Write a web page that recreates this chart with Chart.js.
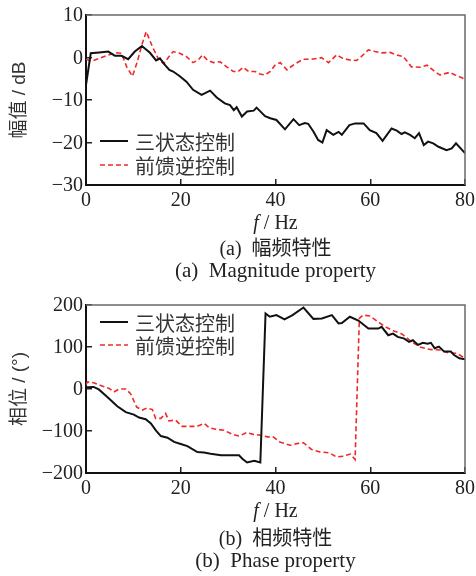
<!DOCTYPE html>
<html>
<head>
<meta charset="utf-8">
<script src="https://cdn.jsdelivr.net/npm/chart.js@4/dist/chart.umd.min.js"></script>
<style>
  html, body { margin:0; padding:0; background:#fff; width:476px; height:576px; overflow:hidden; }
  .box { position:absolute; left:0; width:476px; }
  .txt { position:absolute; left:86px; width:379px; text-align:center; white-space:pre; color:#222;
         font-family:"Liberation Serif","Noto Sans CJK SC",serif; }
</style>
</head>
<body>
<div class="box" style="top:0px;height:212px"><canvas id="c1" width="476" height="212"></canvas></div>
<div class="box" style="top:290px;height:212px"><canvas id="c2" width="476" height="212"></canvas></div>
<div class="txt" style="top:209px;font-size:20px;line-height:26px"><i>f</i> / Hz</div>
<div class="txt" style="top:235px;font-size:20px;line-height:26px">(a)  幅频特性</div>
<div class="txt" style="top:257px;font-size:21px;line-height:26px">(a)  Magnitude property</div>
<div class="txt" style="top:497px;font-size:20px;line-height:26px"><i>f</i> / Hz</div>
<div class="txt" style="top:525px;font-size:20px;line-height:26px">(b)  相频特性</div>
<div class="txt" style="top:547px;font-size:21px;line-height:26px">(b)  Phase property</div>
<script>
// ---------- data ----------
const seriesNames = ['三状态控制', '前馈逆控制'];
const xTicks = [0, 20, 40, 60, 80];
const magTicks = [-30, -20, -10, 0, 10];
const phaseTicks = [-200, -100, 0, 100, 200];

const magFreqTri = [0,1.0,2.8,4.7,6.1,7.5,8.9,10.3,11.8,13.5,14.8,15.6,16.7,17.6,18.4,19.8,21.2,22.6,24.4,26.2,27.6,29.3,30.4,31.2,31.8,32.9,34.0,35.4,36.0,37.8,38.9,40.2,42.0,43.8,45.0,46.2,46.9,48.0,49.0,49.9,50.8,52.2,53.3,54.0,55.6,56.8,58.6,59.9,61.3,62.6,64.5,65.6,66.6,67.3,68.4,69.4,70.3,71.3,72.2,73.3,74.4,76.1,77.2,78.1,80];
const magTri = [-6.5,1.0,1.2,1.4,0.4,0.4,-0.4,1.4,2.7,1.1,-0.7,-0.2,-1.8,-2.9,-3.3,-4.4,-5.7,-7.6,-8.8,-7.8,-9.4,-10.8,-11.2,-12.4,-11.7,-13.9,-12.7,-12.5,-11.8,-13.8,-14.3,-14.7,-16.9,-14.5,-15.9,-15.4,-15.6,-17.4,-19.4,-20.0,-17.1,-18.2,-17.5,-18.2,-15.9,-15.5,-15.5,-17.1,-17.8,-19.6,-16.7,-17.2,-18.0,-17.6,-18.2,-19.0,-17.8,-20.6,-19.8,-20.2,-21.0,-21.8,-21.4,-20.2,-22.5];

const magFreqFF = [0,1.2,2.8,4.7,6.5,7.5,8.6,9.8,10.8,11.8,12.7,14.0,15.3,16.4,17.5,18.4,19.8,21.2,22.6,23.7,24.6,25.6,26.9,28.3,29.7,31.1,32.1,33.2,34.3,35.7,36.7,37.8,38.9,39.9,41.0,42.4,44.1,45.9,47.6,49.7,51.2,52.9,54.2,55.7,57.1,58.1,59.6,61.0,62.4,64.2,65.6,67.0,68.7,70.5,72.0,73.6,74.7,76.8,77.9,80];
const magFF = [-0.4,-0.9,-0.2,0.6,1.1,1.0,-2.2,-4.4,-1.1,3.0,6.1,2.6,-0.4,-1.5,0.2,1.4,1.0,0.2,-1.2,-0.6,0.6,-0.6,-1.2,-1.0,-2.2,-3.3,-3.3,-2.3,-3.3,-3.3,-3.9,-4.1,-3.3,-1.8,-1.2,-2.9,-1.5,-0.4,-0.4,-0.05,-1.2,0.6,-0.2,-0.6,-0.7,0.2,1.8,1.4,1.1,1.2,0.6,0.2,-2.2,-2.3,-1.8,-3.3,-4.1,-3.5,-4.1,-5.1];

const phFreqTri = [0,0.3,1.6,2.7,4.5,6.6,8.4,10.1,11.2,12.6,13.7,14.7,15.8,17.2,18.6,20.0,21.4,23.5,24.9,26.3,28.5,30.5,32.3,33.0,34.0,35.5,36.8,37.9,38.8,40.2,41.9,43.6,45.9,48.0,49.8,51.9,53.3,54.0,55.7,57.5,59.6,61.7,62.4,63.8,64.8,65.8,67.2,68.2,69.0,70.1,71.1,72.1,72.8,73.6,74.5,75.6,77.0,77.7,78.8,80];
const phTri = [3,4,5,-1,-19,-41,-55,-61,-68,-72,-82,-98,-112,-116,-126,-131,-136,-150,-151,-154,-158,-158,-158,-166,-175,-171,-175,180,172,176,166,176,194,167,168,176,156,157,172,163,144,144,148,128,132,124,120,112,116,105,110,108,110,97,101,89,89,81,73,71];

const phFreqFF = [0,0.3,1.6,3.4,4.9,5.9,7.0,8.4,9.4,10.7,11.9,12.9,14.0,14.7,15.8,16.8,17.5,18.9,20.3,21.8,23.5,24.9,26.0,27.4,29.1,30.9,32.3,33.9,35.3,36.8,38.3,39.5,40.9,43.1,44.5,45.9,47.6,49.4,51.4,52.9,54.3,55.8,56.8,57.7,58.5,59.9,61.4,63.2,65.0,66.7,68.4,70.5,72.6,74.7,76.5,78.3,80];
const phFF = [10,17,15,7,1,-7,0,0,-11,-43,-50,-45,-49,-70,-70,-58,-76,-74,-89,-89,-89,-82,-92,-96,-98,-108,-112,-104,-108,-110,-114,-114,-126,-134,-130,-128,-144,-150,-152,-162,-160,-155,-168,168,176,174,162,148,138,131,115,100,94,93,86,85,73];

// ---------- helpers ----------
Chart.defaults.animation = false;
const pts = (xs, ys) => xs.map((x, i) => ({x, y: ys[i]}));
const minusFmt = v => String(v).replace('-', '\u2212');

const framePlugin = {
  id: 'frame',
  afterDatasetsDraw(chart) {
    const {ctx, chartArea: a} = chart;
    ctx.save();
    ctx.strokeStyle = '#6a6a6a';
    ctx.lineWidth = 1.5;
    ctx.beginPath();
    ctx.moveTo(a.left, a.top);
    ctx.lineTo(a.right, a.top);
    ctx.lineTo(a.right, a.bottom);
    ctx.stroke();
    ctx.restore();
  }
};

const legendPlugin = {
  id: 'inLegend',
  afterDraw(chart, args, opts) {
    const {ctx, chartArea: a} = chart;
    ctx.save();
    chart.data.datasets.forEach((ds, i) => {
      const y = (opts.anchor === 'bottom' ? a.bottom - opts.offset : a.top + opts.offset) + i * opts.gap;
      const x0 = a.left + 14;
      ctx.beginPath();
      ctx.strokeStyle = ds.borderColor;
      ctx.lineWidth = ds.borderWidth;
      ctx.setLineDash(ds.borderDash || []);
      ctx.moveTo(x0, y);
      ctx.lineTo(x0 + 28, y);
      ctx.stroke();
      ctx.setLineDash([]);
      ctx.fillStyle = '#333';
      ctx.font = '20px "Noto Sans CJK SC"';
      ctx.textBaseline = 'middle';
      ctx.textAlign = 'left';
      ctx.fillText(ds.label, x0 + 35, y + 1);
    });
    ctx.restore();
  }
};

function makeChart(id, dataA, dataB, yTicks, yTitle, legendOpts, xHeight) {
  const tickFont = {family: '"Liberation Serif", serif', size: 20};
  return new Chart(document.getElementById(id), {
    type: 'line',
    data: {
      datasets: [
        {label: seriesNames[0], data: dataA, borderColor: '#111', borderWidth: 2, pointRadius: 0, tension: 0, fill: false},
        {label: seriesNames[1], data: dataB, borderColor: '#f02828', borderWidth: 1.6, borderDash: [5, 3], pointRadius: 0, tension: 0, fill: false}
      ]
    },
    options: {
      responsive: false,
      animation: false,
      layout: {padding: {top: 15, right: 11, left: 0, bottom: 0}},
      plugins: {legend: {display: false}, tooltip: {enabled: false}, inLegend: legendOpts},
      scales: {
        x: {
          type: 'linear', min: xTicks[0], max: xTicks[xTicks.length - 1],
          afterBuildTicks: s => { s.ticks = xTicks.map(v => ({value: v})); },
          afterFit: s => { s.height = xHeight; s.paddingLeft = 0; s.paddingRight = 0; },
          ticks: {font: tickFont, color: '#222', padding: 10, maxRotation: 0, callback: minusFmt},
          grid: {drawOnChartArea: false, drawTicks: true, tickLength: -6, color: '#222', lineWidth: 1.5},
          border: {display: true, color: '#111', width: 2}
        },
        y: {
          type: 'linear', min: yTicks[0], max: yTicks[yTicks.length - 1],
          afterBuildTicks: s => { s.ticks = yTicks.map(v => ({value: v})); },
          afterFit: s => { s.width = 86; s.paddingTop = 0; s.paddingBottom = 0; },
          ticks: {font: tickFont, color: '#222', padding: 9, labelOffset: 1, callback: minusFmt},
          grid: {drawOnChartArea: false, drawTicks: true, tickLength: -6, color: '#222', lineWidth: 1.5},
          border: {display: true, color: '#111', width: 2},
          title: {display: true, text: yTitle, color: '#333',
                  font: {family: '"Liberation Sans", "Noto Sans CJK SC", sans-serif', size: 19},
                  padding: {top: 8, bottom: 0}}
        }
      }
    },
    plugins: [framePlugin, legendPlugin]
  });
}

makeChart('c1', pts(magFreqTri, magTri), pts(magFreqFF, magFF), magTicks, '幅值 / dB',
          {anchor: 'bottom', offset: 44, gap: 24}, 27);
makeChart('c2', pts(phFreqTri, phTri), pts(phFreqFF, phFF), phaseTicks, '相位 / (°)',
          {anchor: 'top', offset: 17, gap: 23}, 29);
</script>
</body>
</html>
